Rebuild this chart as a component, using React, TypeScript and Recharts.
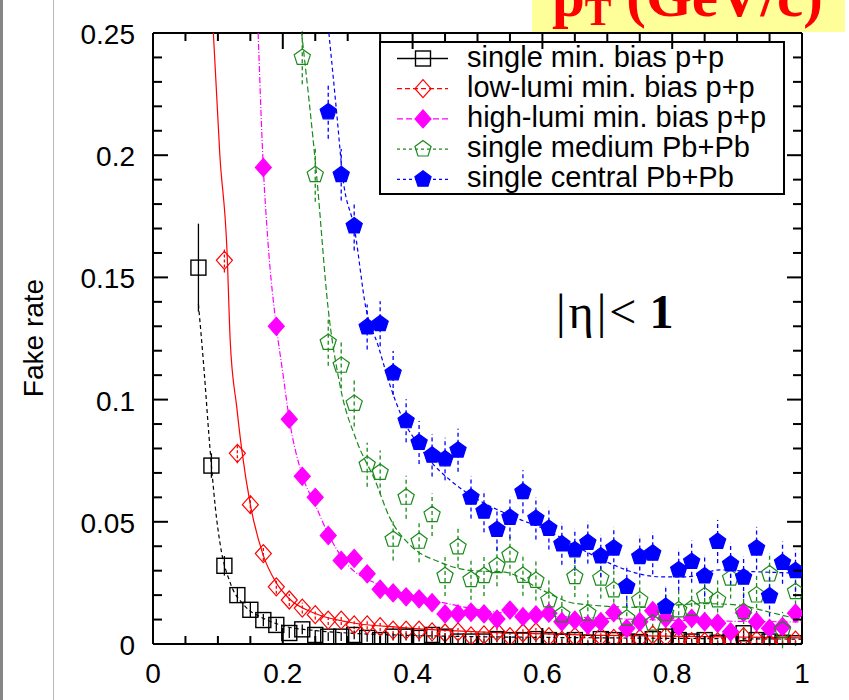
import React from 'react';
import { ScatterChart, Scatter, XAxis, YAxis, ErrorBar } from 'recharts';

// pT bin centres shared by all five samples (each series starts later on the grid)
const ptX = [0.07, 0.09, 0.11, 0.13, 0.15, 0.17, 0.19, 0.21, 0.23, 0.25, 0.27, 0.29, 0.31, 0.33, 0.35, 0.37,
    0.39, 0.41, 0.43, 0.45, 0.47, 0.49, 0.51, 0.53, 0.55, 0.57, 0.59, 0.61, 0.63, 0.65, 0.67, 0.69, 0.71,
    0.73, 0.75, 0.77, 0.79, 0.81, 0.83, 0.85, 0.87, 0.89, 0.91, 0.93, 0.95, 0.97, 0.99];

const xTicks = [0, 0.05, 0.1, 0.15, 0.2, 0.25, 0.3, 0.35, 0.4, 0.45, 0.5, 0.55, 0.6, 0.65, 0.7, 0.75, 0.8, 0.85, 0.9, 0.95, 1];
const yTicks = [0, 0.01, 0.02, 0.03, 0.04, 0.05, 0.06, 0.07, 0.08, 0.09, 0.1, 0.11, 0.12, 0.13, 0.14, 0.15,
    0.16, 0.17, 0.18, 0.19, 0.2, 0.21, 0.22, 0.23, 0.24, 0.25];

// single min. bias p+p
const minBiasY = [0.154, 0.073, 0.032, 0.020, 0.014, 0.0098, 0.0078, 0.0045, 0.006, 0.0037, 0.003, 0.003,
    0.0037, 0.0025, 0.0016, 0.003, 0.003, 0.0025, 0.0037, 0.003, 0.001, 0.001, 0.001, 0.002, 0.0016, 0.0016,
    0.002, 0.0016, 0.001, 0.0016, 0.0005, 0.002, 0.0016, 0.001, 0.0008, 0.002, 0.003, 0.0016, 0.001, 0.0016,
    0.0005, 0.001, 0.0044, 0.0016, 0.001, 0.0005, 0.0003];
const minBiasErr = [0.018, 0.005, 0.004, 0.003, 0.003, 0.0025, 0.0025, 0.002, 0.002, 0.002, 0.0018, 0.0018,
    0.0018, 0.0016, 0.0015, 0.0016, 0.0016, 0.0015, 0.0016, 0.0015, 0.0012, 0.0012, 0.0012, 0.0014, 0.0013,
    0.0013, 0.0014, 0.0013, 0.0012, 0.0013, 0.001, 0.0014, 0.0013, 0.0012, 0.0011, 0.0014, 0.0015, 0.0013,
    0.0012, 0.0013, 0.001, 0.0012, 0.0018, 0.0013, 0.0012, 0.001, 0.001];

// low-lumi min. bias p+p
const lowLumiY = [0.157, 0.078, 0.057, 0.037, 0.0234, 0.018, 0.0147, 0.012, 0.0098, 0.0098, 0.0078, 0.0078,
    0.0071, 0.0057, 0.0057, 0.0057, 0.005, 0.0045, 0.005, 0.0033, 0.0037, 0.005, 0.003, 0.0045, 0.005, 0.003,
    0.0016, 0.003, 0.001, 0.003, 0.0023, 0.0016, 0.0023, 0.0037, 0.003, 0.0016, 0.001, 0.001, 0.001, 0.0016,
    0.003, 0.0016, 0.0003, 0.001, 0.0016];
const lowLumiErr = [0.005, 0.004, 0.0035, 0.003, 0.0028, 0.0025, 0.0022, 0.002, 0.002, 0.002, 0.0018, 0.0018,
    0.0018, 0.0016, 0.0016, 0.0016, 0.0015, 0.0015, 0.0015, 0.0014, 0.0014, 0.0015, 0.0014, 0.0015, 0.0015,
    0.0014, 0.0012, 0.0014, 0.0011, 0.0014, 0.0013, 0.0012, 0.0013, 0.0015, 0.0014, 0.0012, 0.0011, 0.0011,
    0.0011, 0.0012, 0.0014, 0.0012, 0.001, 0.0011, 0.0012];

// high-lumi min. bias p+p
const highLumiY = [0.195, 0.130, 0.092, 0.0686, 0.060, 0.0444, 0.0342, 0.035, 0.0287, 0.0224, 0.0209, 0.0193,
    0.0185, 0.0169, 0.0123, 0.0123, 0.013, 0.0123, 0.0102, 0.0139, 0.0112, 0.0119, 0.0126, 0.0091, 0.0098,
    0.0078, 0.0091, 0.0128, 0.0064, 0.0091, 0.0136, 0.0105, 0.0071, 0.0105, 0.0091, 0.0085, 0.005, 0.0128,
    0.0091, 0.0064, 0.0071, 0.0126];
const highLumiErr = [0.004, 0.0035, 0.003, 0.003, 0.0028, 0.0025, 0.0024, 0.0024, 0.0022, 0.002, 0.002, 0.002,
    0.002, 0.002, 0.0018, 0.0018, 0.0018, 0.0018, 0.0018, 0.0019, 0.0018, 0.0018, 0.0019, 0.0017, 0.0018,
    0.0016, 0.0017, 0.0019, 0.0016, 0.0017, 0.0019, 0.0018, 0.0016, 0.0018, 0.0017, 0.0017, 0.0015, 0.0019,
    0.0017, 0.0016, 0.0016, 0.0019];

// single medium Pb+Pb
const mediumPbY = [0.240, 0.192, 0.1234, 0.114, 0.0984, 0.0733, 0.0702, 0.0428, 0.060, 0.042, 0.0529, 0.0279,
    0.0397, 0.0263, 0.0279, 0.032, 0.0364, 0.028, 0.026, 0.018, 0.0119, 0.0275, 0.0126, 0.0269, 0.0221,
    0.0105, 0.018, 0.0085, 0.0125, 0.0139, 0.0145, 0.0196, 0.018, 0.0269, 0.0132, 0.020, 0.0286, 0.0057, 0.0214];
const mediumPbErr = [0.011, 0.011, 0.0096, 0.0095, 0.0094, 0.009, 0.009, 0.0086, 0.0088, 0.0085, 0.0087, 0.0083,
    0.0085, 0.0082, 0.0083, 0.0084, 0.0085, 0.0083, 0.0082, 0.008, 0.0078, 0.0083, 0.0078, 0.0083, 0.0081,
    0.0077, 0.008, 0.0076, 0.0078, 0.0079, 0.0079, 0.0081, 0.008, 0.0083, 0.0079, 0.0081, 0.0084, 0.0074, 0.0081];

// single central Pb+Pb
const centralPbY = [0.2177, 0.192, 0.171, 0.1297, 0.131, 0.1109, 0.0913, 0.0824, 0.0772, 0.0757, 0.0793, 0.060,
    0.0543, 0.0468, 0.0518, 0.0623, 0.0514, 0.0473, 0.0409, 0.0385, 0.0415, 0.036, 0.0392, 0.0235, 0.0357,
    0.0371, 0.0153, 0.0303, 0.0337, 0.0278, 0.0419, 0.0327, 0.0273, 0.0392, 0.0196, 0.0333, 0.030];
const centralPbErr = [0.011, 0.0105, 0.01, 0.0092, 0.0092, 0.009, 0.0088, 0.0088, 0.0087, 0.0087, 0.0088, 0.0086,
    0.0086, 0.0085, 0.0086, 0.0088, 0.0086, 0.0086, 0.0085, 0.0085, 0.0086, 0.0085, 0.0086, 0.0083, 0.0085,
    0.0086, 0.0082, 0.0085, 0.0086, 0.0084, 0.0088, 0.0086, 0.0085, 0.0087, 0.0083, 0.0086, 0.0086];

// fitted curves
const minBiasFitX = [0.07, 0.079, 0.086, 0.091, 0.096, 0.104, 0.119, 0.14, 0.17, 0.2, 0.25, 0.3, 0.4, 0.5, 0.7, 1];
const minBiasFitY = [0.139, 0.111, 0.086, 0.07, 0.056, 0.04, 0.025, 0.016, 0.0105, 0.0075, 0.0055, 0.0045, 0.0035, 0.003, 0.0025, 0.002];
const lowLumiFitX = [0.093, 0.103, 0.114, 0.119, 0.129, 0.137, 0.15, 0.169, 0.19, 0.21, 0.25, 0.3, 0.38, 0.5, 0.7, 1];
const lowLumiFitY = [0.25, 0.2, 0.161, 0.124, 0.097, 0.079, 0.057, 0.037, 0.025, 0.0185, 0.0125, 0.009, 0.0068, 0.005, 0.0035, 0.0025];
const highLumiFitX = [0.162, 0.17, 0.177, 0.19, 0.2, 0.21, 0.23, 0.25, 0.27, 0.295, 0.35, 0.43, 0.53, 0.7, 1];
const highLumiFitY = [0.25, 0.195, 0.165, 0.13, 0.111, 0.092, 0.069, 0.057, 0.045, 0.034, 0.024, 0.018, 0.013, 0.0105, 0.009];
const mediumPbFitX = [0.229, 0.252, 0.27, 0.288, 0.314, 0.342, 0.365, 0.396, 0.442, 0.493, 0.54, 0.6, 0.65, 0.75, 0.85, 0.9, 0.95, 1];
const mediumPbFitY = [0.25, 0.192, 0.137, 0.106, 0.083, 0.067, 0.0516, 0.0405, 0.0335, 0.030, 0.0295, 0.022, 0.0166, 0.015, 0.0165, 0.016, 0.013, 0.0098];
const centralPbFitX = [0.271, 0.283, 0.292, 0.311, 0.328, 0.347, 0.365, 0.388, 0.406, 0.427, 0.458, 0.499, 0.535,
    0.565, 0.607, 0.653, 0.704, 0.745, 0.781, 0.822, 0.874, 0.925, 1];
const centralPbFitY = [0.25, 0.2174, 0.192, 0.169, 0.1375, 0.122, 0.106, 0.0904, 0.0827, 0.075, 0.067, 0.0593, 0.0544,
    0.051, 0.0466, 0.0398, 0.033, 0.029, 0.0275, 0.0275, 0.0303, 0.0296, 0.029];

const GREEN = '#1a8a1a';
const FONT = '"Liberation Sans", Arial, Helvetica, sans-serif';
const SERIF = '"Liberation Serif", "Times New Roman", serif';

const points = (ys: number[], errs: number[]) =>
    ys.map((y, i) => ({ x: ptX[ptX.length - ys.length + i], y, err: errs[i] }));
const curve = (xs: number[], ys: number[]) => xs.map((x, i) => ({ x, y: ys[i] }));

type Marker = 'square' | 'diamond' | 'pentagon';

const MarkerShape = ({ cx, cy, kind, color, filled }: { cx: number; cy: number; kind: Marker; color: string; filled: boolean }) => {
    const fill = filled ? color : 'none';
    if (kind === 'square') {
        return <rect x={cx - 7.5} y={cy - 7.5} width={15} height={15} fill={fill} stroke={color} strokeWidth={1.4} />;
    }
    if (kind === 'diamond') {
        const pts = `${cx},${cy - 9} ${cx + 8},${cy} ${cx},${cy + 9} ${cx - 8},${cy}`;
        return <polygon points={pts} fill={fill} stroke={color} strokeWidth={1.2} />;
    }
    const r = 8.5;
    const pts = [0, 1, 2, 3, 4].map((k) => {
        const a = (-90 + 72 * k) * Math.PI / 180;
        return `${cx + r * Math.cos(a)},${cy + r * Math.sin(a)}`;
    }).join(' ');
    return <polygon points={pts} fill={fill} stroke={color} strokeWidth={1.2} />;
};

const series = [
    { name: 'single min. bias p+p', color: '#000', kind: 'square' as Marker, filled: false, data: points(minBiasY, minBiasErr),
        fit: curve(minBiasFitX, minBiasFitY), fitDash: '4 3', legendDash: undefined, errDash: undefined },
    { name: 'low-lumi min. bias p+p', color: '#ff0000', kind: 'diamond' as Marker, filled: false, data: points(lowLumiY, lowLumiErr),
        fit: curve(lowLumiFitX, lowLumiFitY), fitDash: undefined, legendDash: '5 3', errDash: '3 2' },
    { name: 'high-lumi min. bias p+p', color: '#ff00ff', kind: 'diamond' as Marker, filled: true, data: points(highLumiY, highLumiErr),
        fit: curve(highLumiFitX, highLumiFitY), fitDash: '6 2 1 2', legendDash: '6 3', errDash: '3 2' },
    { name: 'single medium Pb+Pb', color: GREEN, kind: 'pentagon' as Marker, filled: false, data: points(mediumPbY, mediumPbErr),
        fit: curve(mediumPbFitX, mediumPbFitY), fitDash: '6 3', legendDash: '3 3', errDash: '4 3' },
    { name: 'single central Pb+Pb', color: '#0000ff', kind: 'pentagon' as Marker, filled: true, data: points(centralPbY, centralPbErr),
        fit: curve(centralPbFitX, centralPbFitY), fitDash: '4 3', legendDash: '3 3', errDash: '4 3' },
];

const isMajorX = (v: number) => Math.abs(v * 5 - Math.round(v * 5)) < 1e-6;
const isMajorY = (v: number) => Math.abs(v * 20 - Math.round(v * 20)) < 1e-6;
const fmt = (v: number) => String(Math.round(v * 100) / 100);

const BottomTick = ({ x, y, payload }: any) => {
    const major = isMajorX(payload.value);
    return (
        <g>
            <line x1={x} x2={x} y1={y} y2={y - (major ? 16 : 8)} stroke="#000" strokeWidth={2} />
            {major ? <text x={x} y={y + 39} textAnchor="middle" fontFamily={FONT} fontSize={28} fill="#000">{fmt(payload.value)}</text> : null}
        </g>
    );
};
const TopTick = ({ x, y, payload }: any) => (
    <line x1={x} x2={x} y1={y} y2={y + (isMajorX(payload.value) ? 16 : 8)} stroke="#000" strokeWidth={2} />
);
const LeftTick = ({ x, y, payload }: any) => {
    const major = isMajorY(payload.value);
    return (
        <g>
            <line x1={x} x2={x + (major ? 15 : 9)} y1={y} y2={y} stroke="#000" strokeWidth={2} />
            {major ? <text x={x - 18} y={y + 11} textAnchor="end" fontFamily={FONT} fontSize={28} fill="#000">{fmt(payload.value)}</text> : null}
        </g>
    );
};
const RightTick = ({ x, y, payload }: any) => (
    <line x1={x} x2={x - (isMajorY(payload.value) ? 15 : 9)} y1={y} y2={y} stroke="#000" strokeWidth={2} />
);

const frame = { stroke: '#000', strokeWidth: 2 };

export default function App() {
    return (
        <div style={{ position: 'absolute', left: 0, top: 0, width: 849, height: 700, background: '#fff', overflow: 'hidden' }}>
            <div style={{ position: 'absolute', left: 0, top: 0, width: 3, height: 700, background: '#858585' }} />
            <div style={{ position: 'absolute', left: 53, top: 0, width: 1, height: 700, background: '#b8b8b8' }} />
            <div style={{ position: 'absolute', left: 0, top: 0 }}>
                <ScatterChart width={849} height={700} margin={{ top: 3, right: 17, bottom: 6, left: 3 }}>
                    <XAxis xAxisId={0} dataKey="x" type="number" domain={[0, 1]} ticks={xTicks} interval={0} allowDataOverflow
                        height={50} tickSize={0} tickMargin={0} tickLine={false} axisLine={frame} tick={<BottomTick />} />
                    <XAxis xAxisId="top" orientation="top" dataKey="x" type="number" domain={[0, 1]} ticks={xTicks} interval={0}
                        allowDataOverflow height={30} tickSize={0} tickMargin={0} tickLine={false} axisLine={frame} tick={<TopTick />} />
                    <YAxis yAxisId={0} dataKey="y" type="number" domain={[0, 0.25]} ticks={yTicks} interval={0} allowDataOverflow
                        width={150} tickSize={0} tickMargin={0} tickLine={false} axisLine={frame} tick={<LeftTick />} />
                    <YAxis yAxisId="right" orientation="right" dataKey="y" type="number" domain={[0, 0.25]} ticks={yTicks} interval={0}
                        allowDataOverflow width={30} tickSize={0} tickMargin={0} tickLine={false} axisLine={frame} tick={<RightTick />} />

                    {series.map((s) => (
                        <Scatter key={`fit-${s.name}`} data={s.fit} isAnimationActive={false} legendType="none"
                            line={{ stroke: s.color, strokeWidth: 1.2, strokeDasharray: s.fitDash }}
                            lineJointType="monotoneX" shape={() => <g />} />
                    ))}
                    {series.map((s) => (
                        <Scatter key={s.name} name={s.name} data={s.data} isAnimationActive={false}
                            shape={(p: any) => <MarkerShape cx={p.cx} cy={p.cy} kind={s.kind} color={s.color} filled={s.filled} />}>
                            <ErrorBar dataKey="err" direction="y" width={0} stroke={s.color} strokeWidth={1.3}
                                strokeDasharray={s.errDash} />
                        </Scatter>
                    ))}
                </ScatterChart>
            </div>
            <svg width={849} height={700} style={{ position: 'absolute', left: 0, top: 0, pointerEvents: 'none' }}>
                <text transform="translate(43,338) rotate(-90)" textAnchor="middle" fontFamily={FONT} fontSize={28} fill="#000">Fake rate</text>

                <rect x={380} y={42} width={404} height={152} fill="none" stroke="#000" strokeWidth={2} />
                {series.map((s, i) => {
                    const cy = 58.5 + 30.2 * i;
                    return (
                        <g key={s.name}>
                            <line x1={397} x2={448} y1={cy} y2={cy} stroke={s.color} strokeWidth={1.3} strokeDasharray={s.legendDash} />
                            <MarkerShape cx={423} cy={cy} kind={s.kind} color={s.color} filled={s.filled} />
                            <text x={467} y={cy + 8} fontFamily={FONT} fontSize={29} fill="#000">{s.name}</text>
                        </g>
                    );
                })}

                <text x={556} y={328} fontFamily={SERIF} fontSize={48} fill="#000" letterSpacing={3}>
                    |η|&lt;<tspan fontWeight="bold" dx={10}>1</tspan>
                </text>

                <rect x={532} y={0} width={313} height={32} fill="#ffff99" />
                <text x={552} y={16} fontFamily={SERIF} fontWeight="bold" fontSize={59} fill="#ff0000">
                    p<tspan fontSize={40} dy={9}>T</tspan><tspan dy={-9}> (GeV/c)</tspan>
                </text>
            </svg>
        </div>
    );
}
